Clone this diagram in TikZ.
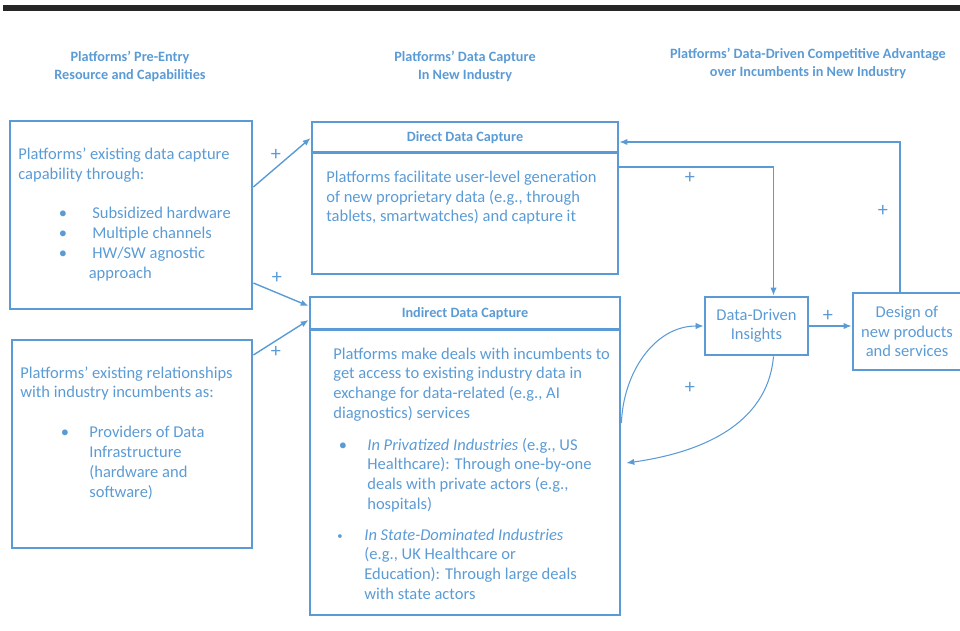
\documentclass[tikz,border=0pt]{standalone}
\usepackage{fontspec}
\setmainfont{Carlito}
\usetikzlibrary{arrows.meta,positioning}
\definecolor{ppblue}{RGB}{91,155,213}
\newlength{\pxu}
\setlength{\pxu}{0.02cm}
\newcommand{\leftlines}[1]{\begin{tabular}[t]{@{}l@{}}#1\end{tabular}}
\newcommand{\dotlines}[1]{\begin{tabular}[t]{@{}c@{}}#1\end{tabular}}

\begin{document}
\begin{tikzpicture}
		[x=1\pxu, y=1\pxu,
		 box/.style={draw=ppblue,line width=1.6pt,rectangle,inner sep=0pt},
		 divider/.style={draw=ppblue,line width=1.6pt},
		 conn/.style={draw=ppblue,line width=0.8pt,-{Latex[length=4.5pt,width=3.6pt]}},
		 curveconn/.style={draw=ppblue,line width=0.6pt,-{Latex[length=4.5pt,width=3.6pt]}},
		 txt/.style={text=ppblue,font=\fontsize{9.4}{11.3}\selectfont,inner sep=0pt,anchor=base west},
		 dot/.style={text=ppblue,font=\fontsize{9.4}{11.3}\selectfont,inner sep=0pt,anchor=base},
		 head/.style={text=ppblue,font=\bfseries\fontsize{8.1}{10.2}\selectfont,align=center,inner sep=0pt},
		 plus/.style={text=ppblue,font=\fontsize{11.5}{12}\selectfont,inner sep=0pt}]

		\useasboundingbox (0,0) rectangle (960,-631);
		\fill[black!85] (3,-5) rectangle (960,-11);

		% column titles
		\node[head] (title1) at (130,-66) {Platforms’ Pre-Entry\\Resource and Capabilities};
		\node[head] (title2) at (465,-66) {Platforms’ Data Capture\\In New Industry};
		\node[head] (title3) at (808,-63) {Platforms’ Data-Driven Competitive Advantage\\over Incumbents in New Industry};

		% pre-entry boxes
		\node[box,minimum width=242\pxu,minimum height=188\pxu] (pre1) at (131,-215) {};
		\node[txt] (pre1text) at (18,-160) {\leftlines{Platforms’ existing data capture\\capability through:}};
		\node[dot] (pre1dots) at (63,-219) {\dotlines{\textbullet\\\textbullet\\\textbullet}};
		\node[txt] (pre1list) at (92,-219) {\leftlines{Subsidized hardware\\Multiple channels\\HW/SW agnostic\\\hspace*{-2pt}approach}};

		\node[box,minimum width=240\pxu,minimum height=208\pxu] (pre2) at (132,-444) {};
		\node[txt] (pre2text) at (20,-378) {\leftlines{Platforms’ existing relationships\\with industry incumbents as:}};
		\node[dot] (pre2dots) at (65,-438) {\textbullet};
		\node[txt] (pre2list) at (89,-438) {\leftlines{Providers of Data\\Infrastructure\\(hardware and\\software)}};

		% data capture boxes
		\node[box,minimum width=306\pxu,minimum height=152\pxu] (direct) at (465,-198) {};
		\draw[divider] ([yshift=-32\pxu]direct.north west) -- ([yshift=-32\pxu]direct.north east);
		\node[head] (directhead) at (465,-138) {Direct Data Capture};
		\node[txt,font=\fontsize{9.4}{11}\selectfont] (directtext) at (326,-183) {\leftlines{Platforms facilitate user-level generation\\of new proprietary data (e.g., through\\tablets, smartwatches) and capture it}};

		\node[box,minimum width=310\pxu,minimum height=318\pxu] (indirect) at (465,-456) {};
		\draw[divider] ([yshift=-34\pxu]indirect.north west) -- ([yshift=-34\pxu]indirect.north east);
		\node[head] (indirecthead) at (465,-314) {Indirect Data Capture};
		\node[txt] (indirecttext) at (333,-359) {\leftlines{Platforms make deals with incumbents to\\get access to existing industry data in\\exchange for data-related (e.g., AI\\diagnostics) services}};
		\node[dot] (privdot) at (343,-450) {\textbullet};
		\node[txt] (privtext) at (367,-450) {\leftlines{\textit{In Privatized Industries} (e.g., US\\Healthcare): Through one-by-one\\deals with private actors (e.g.,\\hospitals)}};
		\node[dot,font=\fontsize{6}{8}\selectfont] (statedot) at (340,-539) {\textbullet};
		\node[txt] (statetext) at (364,-540) {\leftlines{\textit{In State-Dominated Industries}\\(e.g., UK Healthcare or\\Education): Through large deals\\with state actors}};

		% advantage boxes
		\node[box,minimum width=103\pxu,minimum height=58\pxu,text=ppblue,align=center,
		      font=\fontsize{9.4}{11}\selectfont] (insights) at (756.5,-326) {Data-Driven\\Insights};
		\node[box,minimum width=108\pxu,minimum height=77\pxu,text=ppblue,align=center,
		      font=\fontsize{9.4}{11.3}\selectfont] (design) at (907,-331.5) {Design of\\new products\\and services};

		% connectors
		\draw[conn] ([yshift=28\pxu]pre1.east) -- ([yshift=60\pxu]direct.west);
		\draw[conn] ([yshift=-68\pxu]pre1.east) -- ([yshift=150\pxu]indirect.west);
		\draw[conn] ([yshift=89\pxu]pre2.east) -- ([yshift=136\pxu]indirect.west);
		\node[plus] (p1) at (276,-155) {+};
		\node[plus] (p2) at (277,-278) {+};
		\node[plus] (p3) at (276,-352) {+};

		\draw[conn] ([yshift=31\pxu]direct.east) -| ([xshift=17\pxu]insights.north);
		\draw[conn] ([xshift=-7\pxu]design.north) |- ([yshift=56\pxu]direct.east);
		\draw[conn] (insights.east) -- (insights.east -| design.west);
		\node[plus] (p4) at (690,-178) {+};
		\node[plus] (p5) at (883,-211) {+};
		\node[plus] (p6) at (828,-316) {+};

		\draw[curveconn] ([yshift=33\pxu]indirect.east) to[out=88,in=180] (insights.west);
		\draw[curveconn] ([xshift=17\pxu]insights.south) to[out=-95,in=8] ([xshift=5\pxu,yshift=-7\pxu]indirect.east);
		\node[plus] (p7) at (690,-388) {+};
	\end{tikzpicture}
\end{document}
